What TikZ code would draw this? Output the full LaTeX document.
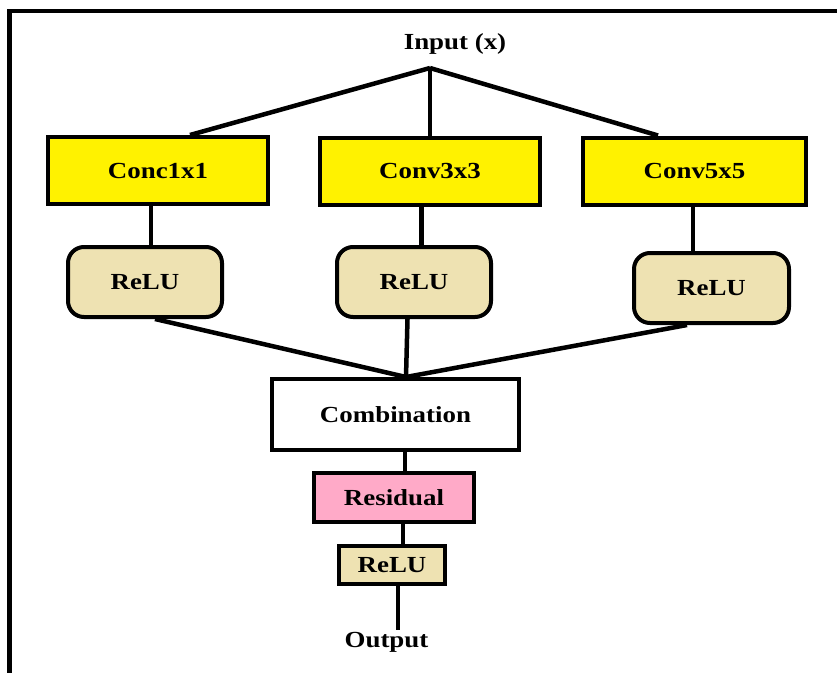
\documentclass[tikz,border=0pt]{standalone}
\usepackage{fontspec}
\newfontfamily\boxfont[FakeStretch=1.17]{Liberation Serif}
\definecolor{convyellow}{RGB}{255,242,0}
\definecolor{reluwheat}{RGB}{238,226,178}
\definecolor{respink}{RGB}{255,170,200}
\tikzset{
  box/.style={draw=black, line width=4pt, minimum width=#1, inner sep=0pt, font=\boxfont\bfseries\fontsize{23}{27}\selectfont},
  convbox/.style={box=#1, fill=convyellow, minimum height=67pt},
  relubox/.style={box=#1, fill=reluwheat, rounded corners=16pt, minimum height=70pt},
  conn/.style={draw=black, line width=4.5pt},
  endlabel/.style={inner sep=0pt, font=\boxfont\bfseries\fontsize{23}{27}\selectfont},
}
\begin{document}
\begin{tikzpicture}[x=1pt,y=-1pt]
\useasboundingbox (0,0) rectangle (837,672);
% frame
\draw[line width=4.5pt] (9.5,680) -- (9.5,11) -- (845,11);

\node[endlabel] (input) at (455,44) {Input (x)};
\coordinate (apex) at (430,68);

\node[convbox=220pt] (conc) at (158,170.5) {Conc1x1};
\node[convbox=220pt] (conv3) at (430,171) {Conv3x3};
\node[convbox=223pt] (conv5) at (694.5,171) {Conv5x5};

\node[relubox=154pt] (relu1) at (145,282) {ReLU};
\node[relubox=154pt] (relu2) at (414,282) {ReLU};
\node[relubox=155pt] (relu3) at (711.5,288) {ReLU};

\node[box=247pt, fill=white, minimum height=71pt] (comb) at (395.5,414.5) {Combination};
\coordinate (join) at ([xshift=10.5pt]comb.north);

\node[box=160pt, fill=respink, minimum height=49pt] (resid) at (394,497.5) {Residual};
\node[box=106pt, fill=reluwheat, minimum height=38pt] (relu4) at (392,565) {ReLU};
\node[endlabel] (output) at (386.5,642) {Output};

% input fan-out
\draw[conn, line join=round] (apex) -- ([xshift=32pt]conc.north);
\draw[conn] (apex) -- (conv3.north);
\draw[conn, line join=round] (apex) -- ([xshift=-36.5pt]conv5.north);

% conv to relu
\draw[conn] ([xshift=-7pt]conc.south) -- ([xshift=-7pt]conc.south |- relu1.north);
\draw[conn] ([xshift=-8.3pt]conv3.south) -- ([xshift=-8.3pt]conv3.south |- relu2.north);
\draw[conn] ([xshift=-1.5pt]conv5.south) -- ([xshift=-1.5pt]conv5.south |- relu3.north);

% relu to combination
\draw[conn] ([xshift=10pt]relu1.south) -- (join);
\draw[conn] ([xshift=-6.5pt]relu2.south) -- (join);
\draw[conn] ([xshift=-24.5pt]relu3.south) -- (join);

% tail
\draw[conn] ([xshift=9.5pt]comb.south) -- ([xshift=9.5pt]comb.south |- resid.north);
\draw[conn] ([xshift=9pt]resid.south) -- ([xshift=9pt]resid.south |- relu4.north);
\coordinate (outtop) at ([yshift=2pt]output.north);
\draw[conn] ([xshift=6pt]relu4.south) -- ([xshift=6pt]relu4.south |- outtop);
\end{tikzpicture}
\end{document}
